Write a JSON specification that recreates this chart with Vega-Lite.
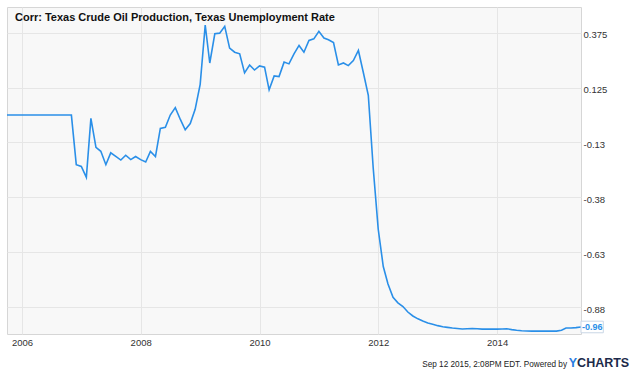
{
  "$schema": "https://vega.github.io/schema/vega-lite/v6.json",
  "autosize": {"type": "none"},
  "width": 574,
  "height": 327,
  "padding": {"left": 7, "top": 7, "right": 59, "bottom": 39},
  "background": "white",
  "config": {
    "view": {"fill": "#f8f8f8", "stroke": "#d6d6d6", "strokeWidth": 1},
    "font": "Liberation Sans"
  },
  "title": {
    "text": "Corr: Texas Crude Oil Production, Texas Unemployment Rate",
    "orient": "top",
    "anchor": "start",
    "frame": "group",
    "offset": -25,
    "dx": 8,
    "baseline": "alphabetic",
    "font": "Liberation Sans",
    "fontSize": 11,
    "fontWeight": "bold",
    "color": "#111111"
  },
  "datasets": {
    "corr": [
      {"date": "2005-10-01", "value": 0},
      {"date": "2005-11-01", "value": 0},
      {"date": "2005-12-01", "value": 0},
      {"date": "2006-01-01", "value": 0},
      {"date": "2006-02-01", "value": 0},
      {"date": "2006-03-01", "value": 0},
      {"date": "2006-04-01", "value": 0},
      {"date": "2006-05-01", "value": 0},
      {"date": "2006-06-01", "value": 0},
      {"date": "2006-07-01", "value": 0},
      {"date": "2006-08-01", "value": 0},
      {"date": "2006-09-01", "value": 0},
      {"date": "2006-10-01", "value": 0},
      {"date": "2006-11-01", "value": 0},
      {"date": "2006-12-01", "value": -0.226},
      {"date": "2007-01-01", "value": -0.234},
      {"date": "2007-02-01", "value": -0.284},
      {"date": "2007-03-01", "value": -0.015},
      {"date": "2007-04-01", "value": -0.147},
      {"date": "2007-05-01", "value": -0.165},
      {"date": "2007-06-01", "value": -0.226},
      {"date": "2007-07-01", "value": -0.172},
      {"date": "2007-08-01", "value": -0.188},
      {"date": "2007-09-01", "value": -0.205},
      {"date": "2007-10-01", "value": -0.183},
      {"date": "2007-11-01", "value": -0.203},
      {"date": "2007-12-01", "value": -0.189},
      {"date": "2008-01-01", "value": -0.203},
      {"date": "2008-02-01", "value": -0.214},
      {"date": "2008-03-01", "value": -0.166},
      {"date": "2008-04-01", "value": -0.189},
      {"date": "2008-05-01", "value": -0.061},
      {"date": "2008-06-01", "value": -0.056},
      {"date": "2008-07-01", "value": 0.0},
      {"date": "2008-08-01", "value": 0.034},
      {"date": "2008-09-01", "value": -0.02},
      {"date": "2008-10-01", "value": -0.067},
      {"date": "2008-11-01", "value": -0.039},
      {"date": "2008-12-01", "value": 0.026},
      {"date": "2009-01-01", "value": 0.14},
      {"date": "2009-02-01", "value": 0.41},
      {"date": "2009-03-01", "value": 0.237},
      {"date": "2009-04-01", "value": 0.37},
      {"date": "2009-05-01", "value": 0.373},
      {"date": "2009-06-01", "value": 0.404},
      {"date": "2009-07-01", "value": 0.305},
      {"date": "2009-08-01", "value": 0.286},
      {"date": "2009-09-01", "value": 0.279},
      {"date": "2009-10-01", "value": 0.192},
      {"date": "2009-11-01", "value": 0.228},
      {"date": "2009-12-01", "value": 0.205},
      {"date": "2010-01-01", "value": 0.224},
      {"date": "2010-02-01", "value": 0.218},
      {"date": "2010-03-01", "value": 0.115},
      {"date": "2010-04-01", "value": 0.178},
      {"date": "2010-05-01", "value": 0.175},
      {"date": "2010-06-01", "value": 0.241},
      {"date": "2010-07-01", "value": 0.233},
      {"date": "2010-08-01", "value": 0.279},
      {"date": "2010-09-01", "value": 0.317},
      {"date": "2010-10-01", "value": 0.286},
      {"date": "2010-11-01", "value": 0.34},
      {"date": "2010-12-01", "value": 0.347},
      {"date": "2011-01-01", "value": 0.381},
      {"date": "2011-02-01", "value": 0.351},
      {"date": "2011-03-01", "value": 0.343},
      {"date": "2011-04-01", "value": 0.33},
      {"date": "2011-05-01", "value": 0.228},
      {"date": "2011-06-01", "value": 0.237},
      {"date": "2011-07-01", "value": 0.225},
      {"date": "2011-08-01", "value": 0.248},
      {"date": "2011-09-01", "value": 0.294},
      {"date": "2011-10-01", "value": 0.195},
      {"date": "2011-11-01", "value": 0.09},
      {"date": "2011-12-01", "value": -0.24},
      {"date": "2012-01-01", "value": -0.52},
      {"date": "2012-02-01", "value": -0.69},
      {"date": "2012-03-01", "value": -0.769},
      {"date": "2012-04-01", "value": -0.83},
      {"date": "2012-05-01", "value": -0.855},
      {"date": "2012-06-01", "value": -0.872},
      {"date": "2012-07-01", "value": -0.897},
      {"date": "2012-08-01", "value": -0.915},
      {"date": "2012-09-01", "value": -0.928},
      {"date": "2012-10-01", "value": -0.938},
      {"date": "2012-11-01", "value": -0.947},
      {"date": "2012-12-01", "value": -0.953},
      {"date": "2013-01-01", "value": -0.959},
      {"date": "2013-02-01", "value": -0.964},
      {"date": "2013-03-01", "value": -0.967},
      {"date": "2013-04-01", "value": -0.97},
      {"date": "2013-05-01", "value": -0.972},
      {"date": "2013-06-01", "value": -0.974},
      {"date": "2013-07-01", "value": -0.973},
      {"date": "2013-08-01", "value": -0.972},
      {"date": "2013-09-01", "value": -0.973},
      {"date": "2013-10-01", "value": -0.975},
      {"date": "2013-11-01", "value": -0.975},
      {"date": "2013-12-01", "value": -0.975},
      {"date": "2014-01-01", "value": -0.975},
      {"date": "2014-02-01", "value": -0.974},
      {"date": "2014-03-01", "value": -0.973},
      {"date": "2014-04-01", "value": -0.977},
      {"date": "2014-05-01", "value": -0.98},
      {"date": "2014-06-01", "value": -0.982},
      {"date": "2014-07-01", "value": -0.983},
      {"date": "2014-08-01", "value": -0.984},
      {"date": "2014-09-01", "value": -0.984},
      {"date": "2014-10-01", "value": -0.984},
      {"date": "2014-11-01", "value": -0.984},
      {"date": "2014-12-01", "value": -0.984},
      {"date": "2015-01-01", "value": -0.984},
      {"date": "2015-02-01", "value": -0.98},
      {"date": "2015-03-01", "value": -0.97},
      {"date": "2015-04-01", "value": -0.97},
      {"date": "2015-05-01", "value": -0.968},
      {"date": "2015-06-01", "value": -0.965}
    ],
    "last": [
      {"date": "2015-06-01", "value": -0.965, "label": "-0.96"}
    ]
  },
  "encoding": {
    "x": {
      "field": "date",
      "type": "temporal",
      "scale": {"domain": ["2005-10-01", "2015-06-01"]},
      "axis": {
        "values": [{"year": 2006, "month": 1, "date": 1}, {"year": 2008, "month": 1, "date": 1}, {"year": 2010, "month": 1, "date": 1}, {"year": 2012, "month": 1, "date": 1}, {"year": 2014, "month": 1, "date": 1}],
        "format": "%Y",
        "ticks": false,
        "domain": false,
        "grid": true,
        "gridColor": "#e6e6e6",
        "labelFont": "Liberation Sans",
        "labelFontSize": 9.5,
        "labelColor": "#333333",
        "labelPadding": 3,
        "labelBaseline": "top",
        "title": "Sep 12 2015, 2:08PM EDT. Powered by",
        "titleFont": "Liberation Sans",
        "titleFontSize": 8.2,
        "titleFontWeight": "normal",
        "titleColor": "#222222",
        "titleAlign": "right",
        "titleAnchor": "end",
        "titleBaseline": "alphabetic",
        "titleX": 559.5,
        "titleY": 32.5
      }
    },
    "y": {
      "field": "value",
      "type": "quantitative",
      "scale": {"domain": [-0.997, 0.492], "nice": false, "zero": false}
    }
  },
  "layer": [
    {
      "data": {"name": "corr"},
      "mark": {"type": "line", "color": "#2a8fe8", "strokeWidth": 1.6, "interpolate": "linear"},
      "encoding": {
        "y": {
          "field": "value",
          "type": "quantitative",
          "scale": {"domain": [-0.997, 0.492], "nice": false, "zero": false},
          "axis": {
            "orient": "right",
            "values": [0.375, 0.125, -0.125, -0.375, -0.625, -0.875],
            "labelExpr": "datum.value == 0.375 ? '0.375' : datum.value == 0.125 ? '0.125' : datum.value == -0.125 ? '-0.13' : datum.value == -0.375 ? '-0.38' : datum.value == -0.625 ? '-0.63' : '-0.88'",
            "ticks": false,
            "domain": false,
            "grid": true,
            "gridColor": "#e6e6e6",
            "labelFont": "Liberation Sans",
            "labelFontSize": 9.5,
            "labelColor": "#333333",
            "labelPadding": 2,
            "labelBaseline": "middle",
            "labelOffset": 2,
            "title": "CHARTS",
            "titleAngle": 0,
            "titleFont": "Liberation Sans",
            "titleFontSize": 12.5,
            "titleFontWeight": "bold",
            "titleColor": "#1c2a4a",
            "titleAlign": "left",
            "titleBaseline": "alphabetic",
            "titleX": -4.4,
            "titleY": 359.5
          }
        }
      }
    },
    {
      "data": {"name": "last"},
      "mark": {"type": "point", "shape": "M0,-5.8H22.3V5.8H0Z", "size": 4, "filled": true, "fill": "white", "stroke": "#c9d6e6", "strokeWidth": 1, "opacity": 1},
      "encoding": {
        "y": {
          "field": "value",
          "type": "quantitative",
          "scale": {"domain": [-0.997, 0.492], "nice": false, "zero": false},
          "axis": {
            "orient": "left",
            "labels": false,
            "ticks": false,
            "domain": false,
            "grid": false,
            "title": "Y",
            "titleAngle": 0,
            "titleFont": "Liberation Sans",
            "titleFontSize": 12.5,
            "titleFontWeight": "bold",
            "titleColor": "#2a7de1",
            "titleAlign": "left",
            "titleBaseline": "alphabetic",
            "titleX": 561.3,
            "titleY": 359.5
          }
        }
      }
    },
    {
      "data": {"name": "last"},
      "mark": {"type": "text", "dx": 11.2, "align": "center", "baseline": "middle", "font": "Liberation Sans", "fontSize": 9, "fontWeight": "bold", "color": "#2a8fe8"},
      "encoding": {
        "y": {
          "field": "value",
          "type": "quantitative",
          "scale": {"domain": [-0.997, 0.492], "nice": false, "zero": false},
          "axis": null
        },
        "text": {"field": "label"}
      }
    }
  ],
  "resolve": {"axis": {"y": "independent"}}
}
